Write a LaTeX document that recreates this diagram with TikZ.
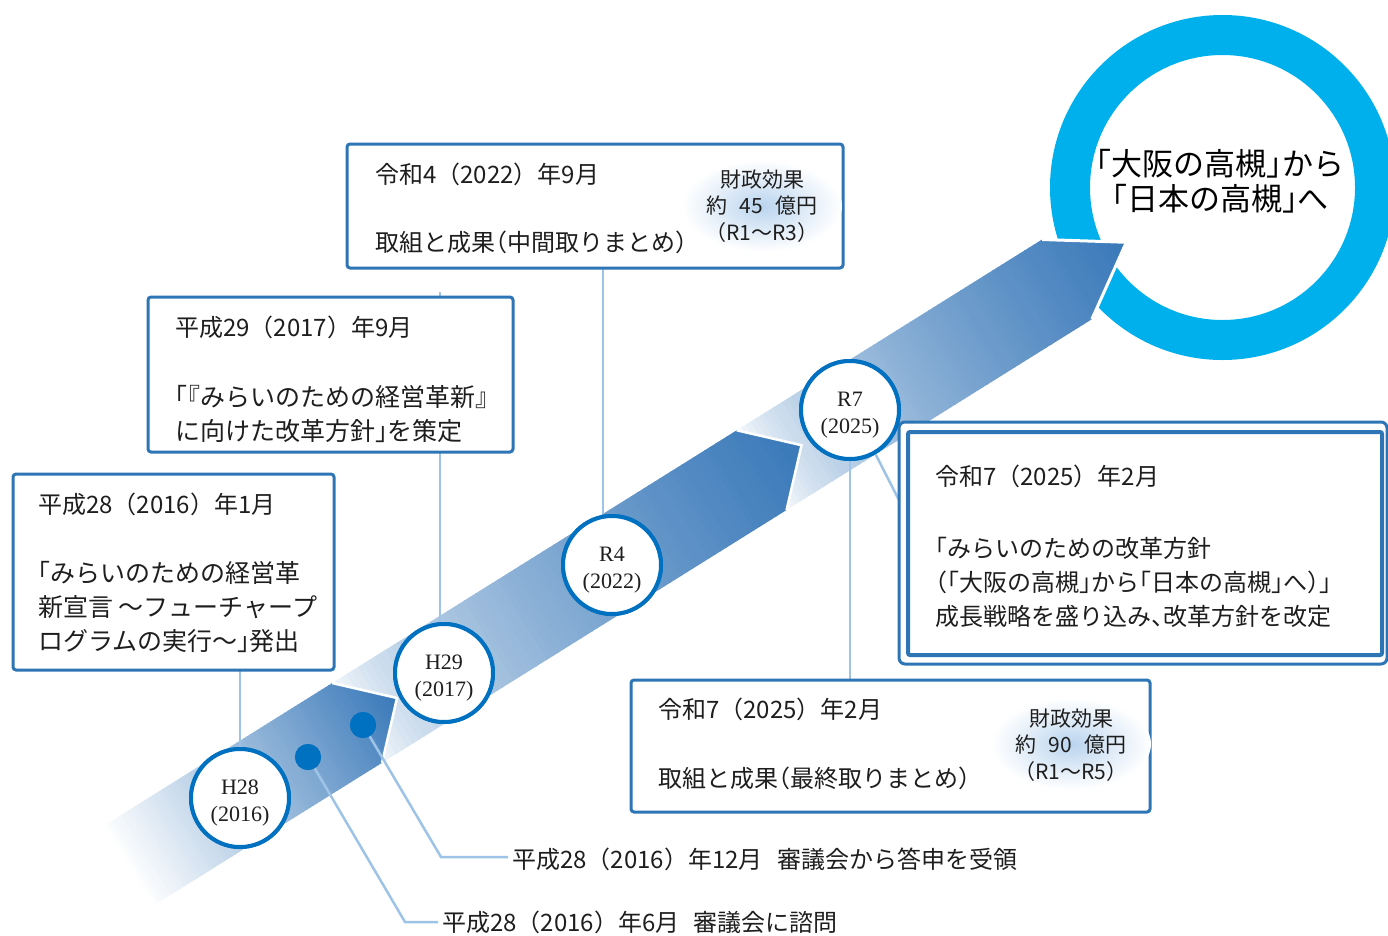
\documentclass[tikz,border=0pt]{standalone}
\usepackage{fontspec}
\newfontfamily\jp[RawFeature={+halt}]{Noto Sans CJK JP}
\newfontfamily\jpf{Noto Sans CJK JP}
\newfontfamily\yr{Liberation Serif}
\definecolor{banddark}{RGB}{56,120,185}
\definecolor{boxblue}{RGB}{46,117,182}
\definecolor{circblue}{RGB}{0,112,192}
\definecolor{linkblue}{RGB}{157,195,230}
\definecolor{ringcyan}{RGB}{0,176,236}
\definecolor{txt}{RGB}{30,30,30}
\definecolor{glow}{RGB}{186,212,238}

% band segment: start, end, head depth, gamma, outline width
\newcommand\bandseg[5]{%
  \begin{scope}
    \clip (#1,-47) -- ({#2-#3},-47) -- (#2,0) -- ({#2-#3},47) -- (#1,47) -- cycle;
    \foreach \i in {0,...,79}{%
      \pgfmathsetmacro{\sa}{#1+(#2-(#1))/80*\i}%
      \pgfmathsetmacro{\sb}{#1+(#2-(#1))/80*(\i+1)+1}%
      \pgfmathsetmacro{\ff}{(\i+0.5)/80}%
      \pgfmathtruncatemacro{\p}{100*exp(#4*ln(\ff))}%
      \fill[banddark!\p!white] (\sa,-48) rectangle (\sb,48);
    }
  \end{scope}
  \draw[white, line width=#5] ({#2-#3},-47) -- (#2,0) -- ({#2-#3},47);
}

\begin{document}
\begin{tikzpicture}[x=1pt,y=-1pt,
  box/.style={draw=boxblue, line width=3pt, fill=white, rounded corners=3pt, anchor=north west, inner sep=0, outer sep=0},
  yearc/.style={circle, draw=circblue, line width=4pt, fill=white, minimum size=98pt, inner sep=0},
  yeart/.style={align=center, inner sep=0, font=\yr\fontsize{22}{26.5}\selectfont, text=txt},
  dot/.style={circle, fill=circblue, minimum size=26pt, inner sep=0},
  link/.style={draw=linkblue, line width=2.5pt},
  jpt/.style={font=\jp\fontsize{24}{34}\selectfont, text=txt, anchor=base west, inner sep=0, align=left},
  date/.style={font=\jpf\fontsize{24}{34}\selectfont, text=txt, anchor=base west, inner sep=0},
  fin/.style={font=\jp\fontsize{21}{26.5}\selectfont, text=txt, anchor=base, inner sep=0, align=center},
  note/.style={font=\jpf\fontsize{24}{30}\selectfont, text=txt, anchor=base west, inner xsep=4pt, inner ysep=0},
  ]
\useasboundingbox (0,0) rectangle (1388,935);

% goal ring
\node[circle, draw=ringcyan, line width=40pt, minimum size=305pt, inner sep=0] (goal) at (1222.5,187.5) {};
\node[font=\jp\fontsize{31}{35}\selectfont, align=center, text=black, inner sep=0] (goaltxt) at (1220,181) {「大阪の高槻」から\\「日本の高槻」へ};

% band
\begin{scope}[shift={(397,698)}, rotate=32]
  \bandseg{430}{860}{70}{0.6}{3pt}
  \bandseg{-50}{477}{47}{0.6}{2.5pt}
  \bandseg{-320}{0}{47}{1.0}{2.5pt}
\end{scope}

% positions
\coordinate (h29top) at (440,292);
\coordinate (r4top) at (603,268);
\coordinate (c74) at (902,506);
\coordinate (c12) at (441,857);
\coordinate (c6) at (405,922);

\node[dot] (d1) at (308,757) {};
\node[dot] (d2) at (363,725) {};

% notes at the bottom
\node[note] (t12) at (508,868) {平成28（2016）年12月\hspace{0.6em}審議会から答申を受領};
\node[note] (t6) at (438,931) {平成28（2016）年6月\hspace{0.6em}審議会に諮問};

% year circles (shapes)
\node[yearc] (h28) at (240,798) {};
\node[yearc] (h29) at (444,673) {};
\node[yearc] (r4) at (612,565) {};
\node[yearc] (r7) at (850,410) {};

% connectors
\draw[link] (d2) -- (c12) -- (c12 -| t12.west);
\draw[link] (d1) -- (c6) -- (c6 -| t6.west);
\draw[link] (h29top) -- (h29top |- h29.north);
\draw[link] (r4top) -- (r4top |- r4.north);
\draw[link] (r7.-60) -- (c74);
\draw[link] (h28.north) -- ++(0,-80);
\draw[link] (r7.south) -- ++(0,222);

% boxes
\node[box, minimum width=321pt, minimum height=196pt] (box1) at (13,474) {};
\node[box, minimum width=365pt, minimum height=155pt] (box2) at (148,297) {};
\node[box, minimum width=496pt, minimum height=124pt] (box3) at (347,144) {};
\node[box, minimum width=519pt, minimum height=132pt] (box5) at (631,680) {};
\node[box, rounded corners=6pt, minimum width=488pt, minimum height=242pt] (box4) at (899,422) {};
\node[box, line width=4pt, rounded corners=2pt, minimum width=474pt, minimum height=223pt] (box4in) at (908,432) {};

% circles redrawn over box corners
\node[yearc] (h28c) at (h28) {};
\node[yearc] (h29c) at (h29) {};
\node[yearc] (r4c) at (r4) {};
\node[yearc] (r7c) at (r7) {};
\node[dot] (d1c) at (d1) {};
\node[dot] (d2c) at (d2) {};

% glows
\shade[inner color=glow, outer color=white] (762,206) ellipse [x radius=80, y radius=46];
\shade[inner color=glow, outer color=white] (1071,744) ellipse [x radius=80, y radius=46];

% texts
\node[date] (b1t) at (38,513) {平成28（2016）年1月};
\node[jpt, font=\jp\fontsize{25}{34}\selectfont] (b1b) at (38,650) {「みらいのための経営革\\新宣言 ～フューチャープ\\ログラムの実行～」発出};
\node[date] (b2t) at (175,336) {平成29（2017）年9月};
\node[jpt, font=\jp\fontsize{25}{34}\selectfont] (b2b) at (175,440) {「『みらいのための経営革新』\\に向けた改革方針」を策定};
\node[date] (b3t) at (375,183) {令和4（2022）年9月};
\node[jpt] (b3b) at (375,251) {取組と成果（中間取りまとめ）};
\node[fin] (f45) at (762,240) {財政効果\\約\hspace{0.6em}45\hspace{0.6em}億円\\（R1～R3）};
\node[date] (b4t) at (935,485) {令和7（2025）年2月};
\node[jpt] (b4b) at (935,625) {「みらいのための改革方針\\（「大阪の高槻」から「日本の高槻」へ）」\\成長戦略を盛り込み、改革方針を改定};
\node[date] (b5t) at (658,718) {令和7（2025）年2月};
\node[jpt] (b5b) at (658,787) {取組と成果（最終取りまとめ）};
\node[fin] (f90) at (1071,779) {財政効果\\約\hspace{0.6em}90\hspace{0.6em}億円\\（R1～R5）};

\node[yeart] (h28t) at ([yshift=-5pt]h28) {H28\\(2016)};
\node[yeart] (h29t) at ([yshift=-5pt]h29) {H29\\(2017)};
\node[yeart] (r4t) at ([yshift=-5pt]r4) {R4\\(2022)};
\node[yeart] (r7t) at ([yshift=-5pt]r7) {R7\\(2025)};
\end{tikzpicture}
\end{document}
